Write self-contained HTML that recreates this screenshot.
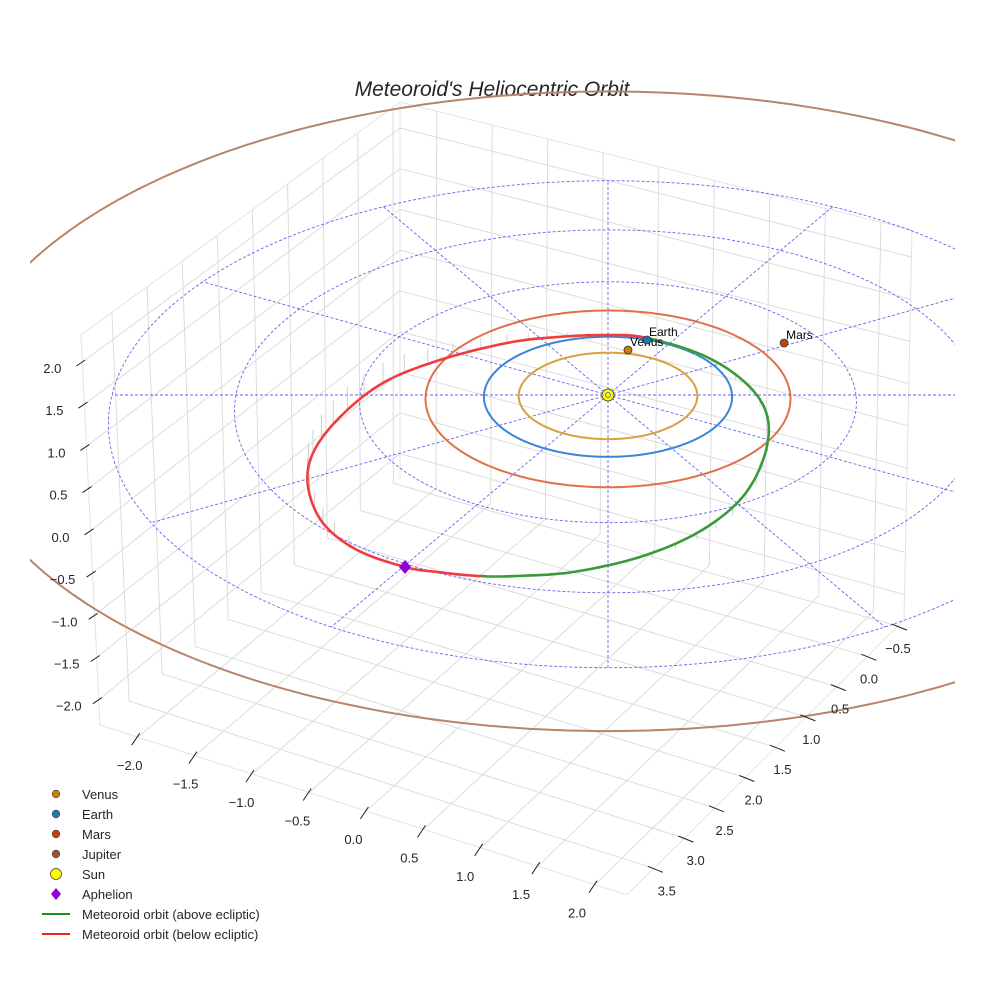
<!DOCTYPE html>
<html><head><meta charset="utf-8"><style>
html,body{margin:0;padding:0;background:#fff}
svg{display:block;font-family:"Liberation Sans",sans-serif}
</style></head><body>
<svg id="chart" width="984" height="984" viewBox="0 0 984 984" xmlns="http://www.w3.org/2000/svg">
<defs><clipPath id="axclip"><rect x="30" y="0" width="925" height="984"/></clipPath></defs>
<text x="492" y="96" text-anchor="middle" font-size="21" font-style="italic" fill="#262626">Meteoroid's Heliocentric Orbit</text>
<g id="grid"></g>
<g id="plot" clip-path="url(#axclip)"></g>
<g id="ticks"></g>
<g id="legend"></g>
</svg>
<script>
// ---- data ----
const xTicks = [-2.0,-1.5,-1.0,-0.5,0.0,0.5,1.0,1.5,2.0];
const yTicks = [-0.5,0.0,0.5,1.0,1.5,2.0,2.5,3.0,3.5];
const zTicks = [-2.0,-1.5,-1.0,-0.5,0.0,0.5,1.0,1.5,2.0];
const planetNames = ["Venus","Earth","Mars","Jupiter"];
const orbitRadii = [0.72,1.0,1.47,5.2];
const orbitZ = [0,0,0,0.4];
const planetX = [0.165,0.323,1.458];
const planetY = [0.767,0.943,0.89];
const gridRadii = [1,2,3,4];
const gridAngles = [0,30,60,90,120,150,180,210,240,270,300,330];
const meteorX = [0.324,0.812,1.146,1.270,1.206,1.007,0.669,0.238,-0.259,-0.673,-0.947,-1.267,-1.509,-1.886,-2.176,-2.336,-2.339,-2.163,-1.844,-1.389,-0.840,-0.424,-0.008];
const meteorY = [0.978,0.587,0.035,-0.534,-1.180,-1.789,-2.249,-2.557,-2.734,-2.772,-2.767,-2.698,-2.604,-2.276,-1.781,-1.142,-0.565,0.025,0.546,0.843,1.038,1.069,1.060];
const meteorZ = [0.0,0.04,0.07,0.09,0.10,0.10,0.08,0.05,0.02,0.005,0.0,-0.01,-0.03,-0.10,-0.18,-0.25,-0.28,-0.28,-0.24,-0.17,-0.10,-0.05,-0.02];
const aphelionIndex = 12;

const NS="http://www.w3.org/2000/svg";
function mk(parent,tag,attrs){const e=document.createElementNS(NS,tag);for(const k in attrs)e.setAttribute(k,attrs[k]);parent.appendChild(e);return e;}
const colors={Venus:"#c7800f",Earth:"#1f77b4",Mars:"#c1440e",Jupiter:"#a0522d"};
const orbitColors=["#d9a040","#3a86d6","#e0704a","#b8846a"];

// ecliptic projection (AU -> screen)
function proj(x,y,z){const g=1/(1+0.03*y);return [608+124*x*g, 395-60*y*g-84*z];}
// axes-box projection (trilinear)
const Xr=[-2.33,2.28],Yr=[-0.6,3.94],Zr=[-2.3,2.32];
const C={ '010':[100,725],'110':[627,895],'100':[904,620],'000':[400,478],
          '011':[81,335],'111':[622,495],'101':[912,230],'001':[400,102]};
function boxP(X,Y,Z){
  const u=(X-Xr[0])/(Xr[1]-Xr[0]),v=(Y-Yr[0])/(Yr[1]-Yr[0]),w=(Z-Zr[0])/(Zr[1]-Zr[0]);
  let sx=0,sy=0;
  for(const a of [0,1])for(const b of [0,1])for(const c of [0,1]){
    const wt=(a?u:1-u)*(b?v:1-v)*(c?w:1-w);const p=C[''+a+b+c];sx+=wt*p[0];sy+=wt*p[1];}
  return [sx,sy];
}
const grid=document.getElementById('grid');
function seg(g,p,q,st,wd,name){const l=mk(g,'line',{x1:p[0].toFixed(1),y1:p[1].toFixed(1),x2:q[0].toFixed(1),y2:q[1].toFixed(1),stroke:st,'stroke-width':wd});
  
  return l;}
xTicks.forEach(X=>seg(grid,boxP(X,Yr[0],Zr[0]),boxP(X,Yr[1],Zr[0]),'#dcdcdc',1,'floor-gridline'));
yTicks.forEach(Y=>seg(grid,boxP(Xr[0],Y,Zr[0]),boxP(Xr[1],Y,Zr[0]),'#dcdcdc',1,'floor-gridline'));
yTicks.forEach(Y=>seg(grid,boxP(Xr[0],Y,Zr[0]),boxP(Xr[0],Y,Zr[1]),'#dcdcdc',1,'wall-gridline'));
zTicks.forEach(Z=>seg(grid,boxP(Xr[0],Yr[0],Z),boxP(Xr[0],Yr[1],Z),'#dcdcdc',1,'wall-gridline'));
xTicks.forEach(X=>seg(grid,boxP(X,Yr[0],Zr[0]),boxP(X,Yr[0],Zr[1]),'#dcdcdc',1,'wall-gridline'));
zTicks.forEach(Z=>seg(grid,boxP(Xr[0],Yr[0],Z),boxP(Xr[1],Yr[0],Z),'#dcdcdc',1,'wall-gridline'));
[[ [Xr[0],Yr[1],Zr[0]],[Xr[1],Yr[1],Zr[0]] ],[ [Xr[1],Yr[1],Zr[0]],[Xr[1],Yr[0],Zr[0]] ],
 [ [Xr[0],Yr[1],Zr[0]],[Xr[0],Yr[1],Zr[1]] ],[ [Xr[1],Yr[0],Zr[0]],[Xr[1],Yr[0],Zr[1]] ],
 [ [Xr[0],Yr[1],Zr[1]],[Xr[0],Yr[0],Zr[1]] ],[ [Xr[0],Yr[0],Zr[1]],[Xr[1],Yr[0],Zr[1]] ],
 [ [Xr[0],Yr[0],Zr[0]],[Xr[0],Yr[0],Zr[1]] ]]
 .forEach(e=>seg(grid,boxP(...e[0]),boxP(...e[1]),'#e3e3e3',1,'box-edge'));

// ticks
const tk=document.getElementById('ticks');
function lbl(p,t,anchor,name){const e=mk(tk,'text',{x:p[0].toFixed(1),y:p[1].toFixed(1),'text-anchor':anchor,'font-size':13,fill:'#262626'});e.textContent=t;
  
  }
xTicks.forEach(X=>{const p=boxP(X,Yr[1],Zr[0]);seg(tk,[p[0]+2,p[1]-4],[p[0]-6,p[1]+8],'#222',1,'x-tick');
  const ox=-8-10*(X+2)/4;
  lbl([p[0]+ox,p[1]+33],X.toFixed(1).replace('-','\u2212'),'middle','x-tick-label');});
yTicks.forEach(Y=>{const p=boxP(Xr[1],Y,Zr[0]);seg(tk,[p[0]-6,p[1]-2],[p[0]+9,p[1]+4],'#222',1,'y-tick');
  const ox=13*(Y+0.5)/4;
  lbl([p[0]+ox,p[1]+27],Y.toFixed(1).replace('-','\u2212'),'middle','y-tick-label');});
zTicks.forEach(Z=>{const p=boxP(Xr[0],Yr[1],Z);seg(tk,[p[0]-6,p[1]+4],[p[0]+3,p[1]-2],'#222',1,'z-tick');
  lbl([p[0]-30,p[1]+11],Z.toFixed(1).replace('-','\u2212'),'middle','z-tick-label');});

// plot
const plot=document.getElementById('plot');
function pathFrom(pts){return pts.map((p,i)=>(i?'L':'M')+p[0].toFixed(1)+' '+p[1].toFixed(1)).join(' ');}
gridRadii.forEach(r=>{const pts=[];for(let i=0;i<=240;i++){const t=i/240*2*Math.PI;pts.push(proj(r*Math.cos(t),r*Math.sin(t),0));}
  const e=mk(plot,'path',{d:pathFrom(pts),fill:'none',stroke:'#4a4ae8','stroke-width':0.9,'stroke-dasharray':'3,2',opacity:0.85});
  
  });
gridAngles.forEach(a=>{const t=a*Math.PI/180;const R=gridRadii[gridRadii.length-1];
  const e=seg(plot,proj(0,0,0),proj(R*Math.cos(t),R*Math.sin(t),0),'#4a4ae8',0.9,'ecliptic-radial-line');
  e.setAttribute('stroke-dasharray','3,2');e.setAttribute('opacity','0.85');});
orbitRadii.forEach((r,k)=>{const pts=[];for(let i=0;i<=360;i++){const t=i/360*2*Math.PI;pts.push(proj(r*Math.cos(t),r*Math.sin(t),orbitZ[k]));}
  const e=mk(plot,'path',{d:pathFrom(pts),fill:'none',stroke:orbitColors[k],'stroke-width':2});
  
  });
// meteoroid orbit: project points, then closed Catmull-Rom in screen space
const n=meteorX.length,S=10,sm=[];
const scr=meteorX.map((x,i)=>proj(x,meteorY[i],meteorZ[i]));
const base=meteorX.map((x,i)=>proj(x,meteorY[i],0));
const Q=(arr,i)=>arr[(i+n)%n];
function cr(arr,i,t){const p0=Q(arr,i-1),p1=Q(arr,i),p2=Q(arr,i+1),p3=Q(arr,i+2),t2=t*t,t3=t2*t;
  return [0,1].map(j=>0.5*((2*p1[j])+(-p0[j]+p2[j])*t+(2*p0[j]-5*p1[j]+4*p2[j]-p3[j])*t2+(-p0[j]+3*p1[j]-3*p2[j]+p3[j])*t3));}
for(let i=0;i<n;i++){for(let s=0;s<S;s++){const t=s/S;
  const z=meteorZ[i]*(1-t)+meteorZ[(i+1)%n]*t;sm.push({p:cr(scr,i,t),b:cr(base,i,t),z:z});}}
sm.forEach((q,i)=>{if(i%4===0&&Math.abs(q.z)>0.03){seg(plot,q.p,q.b,'#c4c4c4',0.8,'drop-line');}});
let cur=null,curPts=[];
function flush(){if(curPts.length>1){const e=mk(plot,'path',{d:pathFrom(curPts),fill:'none',stroke:cur?'#f03c3c':'#3a9a3a','stroke-width':2.6,'stroke-linecap':'round'});
  
  }}
for(let i=0;i<sm.length;i++){const a=sm[i],b=sm[(i+1)%sm.length];const below=(a.z+b.z)/2<0;
  if(below!==cur){flush();cur=below;curPts=[a.p];}curPts.push(b.p);}
flush();
// sun
const sp=proj(0,0,0);
const sun=mk(plot,'circle',{cx:sp[0],cy:sp[1],r:6,fill:'#ffff00',stroke:'#222','stroke-width':0.8});


mk(plot,'circle',{cx:sp[0],cy:sp[1],r:2.5,fill:'none',stroke:'#3355cc','stroke-width':0.8});
planetX.forEach((x,k)=>{const p=proj(x,planetY[k],0);
  const c=mk(plot,'circle',{cx:p[0].toFixed(1),cy:p[1].toFixed(1),r:4,fill:colors[planetNames[k]],stroke:'#333','stroke-width':0.8});
  
  
  const t=mk(plot,'text',{x:(p[0]+2).toFixed(1),y:(p[1]-4).toFixed(1),'font-size':12,fill:'#000'});t.textContent=planetNames[k];
  
  });
const ap=proj(meteorX[aphelionIndex],meteorY[aphelionIndex],meteorZ[aphelionIndex]);
const dia=mk(plot,'polygon',{points:`${ap[0]},${ap[1]-7} ${ap[0]+6},${ap[1]} ${ap[0]},${ap[1]+7} ${ap[0]-6},${ap[1]}`,fill:'#9400d3'});



// legend
const lg=document.getElementById('legend');
const legItems=[["Venus","dot",colors.Venus],["Earth","dot",colors.Earth],["Mars","dot",colors.Mars],["Jupiter","dot",colors.Jupiter],
 ["Sun","sun","#ffff00"],["Aphelion","dia","#9400d3"],["Meteoroid orbit (above ecliptic)","line","#1e8c1e"],["Meteoroid orbit (below ecliptic)","line","#ee2222"]];
legItems.forEach((it,i)=>{const y=794+i*20;const g=mk(lg,'g',{});
  
  
  if(it[1]==='dot')mk(g,'circle',{cx:56,cy:y,r:3.8,fill:it[2],stroke:'#333','stroke-width':0.6});
  else if(it[1]==='sun')mk(g,'circle',{cx:56,cy:y,r:5.5,fill:it[2],stroke:'#333','stroke-width':0.7});
  else if(it[1]==='dia')mk(g,'polygon',{points:`56,${y-6} 61,${y} 56,${y+6} 51,${y}`,fill:it[2]});
  else mk(g,'line',{x1:42,y1:y,x2:70,y2:y,stroke:it[2],'stroke-width':2});
  const t=mk(g,'text',{x:82,y:y+5,'font-size':13,fill:'#262626'});t.textContent=it[0];});
</script>
</body></html>
